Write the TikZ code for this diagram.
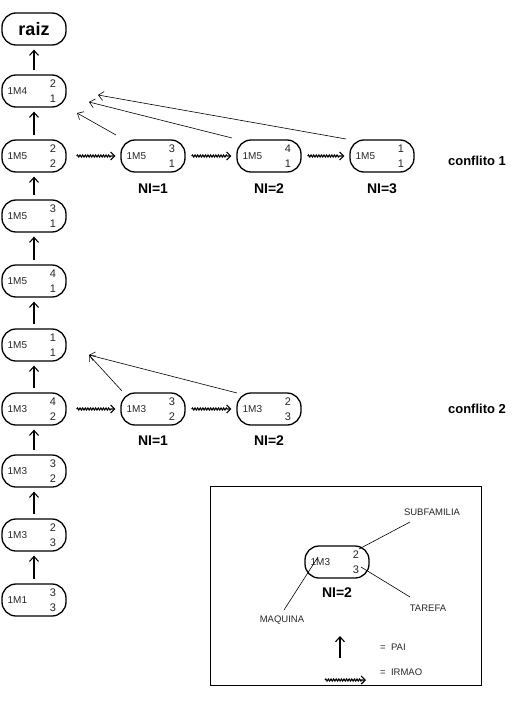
\documentclass[tikz,border=0pt]{standalone}
\usepackage{fontspec}
\setmainfont{Liberation Sans}
\usetikzlibrary{decorations.pathmorphing,arrows.meta}
\tikzset{
  pill/.style={draw,line width=1.3pt,rounded corners=14pt,minimum width=64pt,minimum height=32pt,inner sep=0pt},
  lbl/.style={font=\fontsize{10}{11}\selectfont,inner sep=0pt,text=black!85},
  dig/.style={font=\fontsize{11}{12}\selectfont,inner sep=0pt,text=black!85},
  nil/.style={font=\bfseries\fontsize{14}{15}\selectfont,inner sep=0pt},
  pai/.style={-{Straight Barb[length=5pt,width=9pt]},line width=1.1pt},
  irmao/.style={-{Straight Barb[length=4pt,width=8pt]},line width=1.1pt,decorate,decoration={snake,amplitude=1pt,segment length=2.6pt,post length=4pt}},
  ptr/.style={-{Straight Barb[length=5pt,width=9pt]},line width=0.6pt},
  thin/.style={line width=0.6pt},
  lg/.style={font=\fontsize{9.5}{10}\selectfont,inner sep=0pt,text=black!85}
}
\newcommand{\pn}[6]{%
  \node[pill] (#1) at (#2,#3) {};
  \node[lbl] (#1l) at ([xshift=16pt]#1.west) {#4};
  \node[dig] (#1a) at ([xshift=19pt,yshift=7pt]#1.center) {#5};
  \node[dig] (#1b) at ([xshift=19pt,yshift=-8pt]#1.center) {#6};
}
\begin{document}
\begin{tikzpicture}[x=1pt,y=-1pt]
\useasboundingbox (0,0) rectangle (519,704);
% root
\node[pill,font=\bfseries\fontsize{18}{19}\selectfont] (raiz) at (34,29) {raiz};
% left column
\pn{c1}{34}{91}{1M4}{2}{1}
\pn{c2}{34}{156}{1M5}{2}{2}
\pn{c3}{34}{216}{1M5}{3}{1}
\pn{c4}{34}{281}{1M5}{4}{1}
\pn{c5}{34}{345}{1M5}{1}{1}
\pn{c6}{34}{409}{1M3}{4}{2}
\pn{c7}{34}{471}{1M3}{3}{2}
\pn{c8}{34}{535}{1M3}{2}{3}
\pn{c9}{34}{600}{1M1}{3}{3}
\foreach \a/\b in {c1/raiz,c2/c1,c3/c2,c4/c3,c5/c4,c6/c5,c7/c6,c8/c7,c9/c8}
  \draw[pai,shorten <=4pt,shorten >=4pt] (\a.north) -- (\b.south);
% conflict 1
\pn{r1}{153}{156}{1M5}{3}{1}
\pn{r2}{269}{156}{1M5}{4}{1}
\pn{r3}{382}{156}{1M5}{1}{1}
\node[nil] (n1) at (153,189) {NI=1};
\node[nil] (n2) at (269,189) {NI=2};
\node[nil] (n3) at (382,189) {NI=3};
\node[font=\bfseries\fontsize{13}{14}\selectfont,inner sep=0pt] (cf1) at (477,161) {conflito 1};
\draw[irmao] ([xshift=10pt]c2.east) -- ([xshift=-5pt]r1.west);
\draw[irmao] ([xshift=6pt]r1.east) -- ([xshift=-5pt]r2.west);
\draw[irmao] ([xshift=6pt]r2.east) -- ([xshift=-5pt]r3.west);
\coordinate (h1) at (77,113);
\coordinate (h2) at (89,102);
\coordinate (h3) at (98,95);
\coordinate (s1) at (116,135);
\coordinate (s2) at (232,138);
\coordinate (s3) at (346,139);
\draw[ptr] (s1) -- (h1);
\draw[ptr] (s2) -- (h2);
\draw[ptr] (s3) -- (h3);
% conflict 2
\pn{q1}{153}{409}{1M3}{3}{2}
\pn{q2}{269}{409}{1M3}{2}{3}
\node[nil] (m1) at (153,441) {NI=1};
\node[nil] (m2) at (269,441) {NI=2};
\node[font=\bfseries\fontsize{13}{14}\selectfont,inner sep=0pt] (cf2) at (477,409) {conflito 2};
\draw[irmao] ([xshift=10pt]c6.east) -- ([xshift=-5pt]q1.west);
\draw[irmao] ([xshift=6pt]q1.east) -- ([xshift=-5pt]q2.west);
\coordinate (g1) at (89,355);
\coordinate (t1) at (122,391);
\coordinate (t2) at (237,393);
\draw[ptr] (t1) -- (g1);
\draw[ptr] (t2) -- (g1);
% legend
\node[draw,line width=1.6pt,minimum width=271pt,minimum height=199pt,inner sep=0pt] (box) at (346,586) {};
\pn{L}{337}{562}{1M3}{2}{3}
\node[nil] (Ln) at (337,593) {NI=2};
\node[lg] (sub) at (432,512) {SUBFAMILIA};
\node[lg] (tar) at (428,608) {TAREFA};
\node[lg] (maq) at (282,620) {MAQUINA};
\coordinate (sa) at (410,522);
\coordinate (sb) at (359,549);
\coordinate (ta) at (410,597);
\coordinate (tb) at (361,567);
\coordinate (ma) at (284,610);
\coordinate (mb) at (318,557);
\draw[thin] (sa) -- (sb);
\draw[thin] (ta) -- (tb);
\draw[thin] (ma) -- (mb);
\coordinate (pa) at (340,658);
\coordinate (pb) at (340,636);
\draw[pai] (pa) -- (pb);
\node[lg,anchor=west] (pai) at (380,647) {=\ \ PAI};
\coordinate (wa) at (325,680);
\coordinate (wb) at (366,680);
\draw[irmao] (wa) -- (wb);
\node[lg,anchor=west] (irm) at (380,672) {=\ \ IRMAO};
\end{tikzpicture}
\end{document}
